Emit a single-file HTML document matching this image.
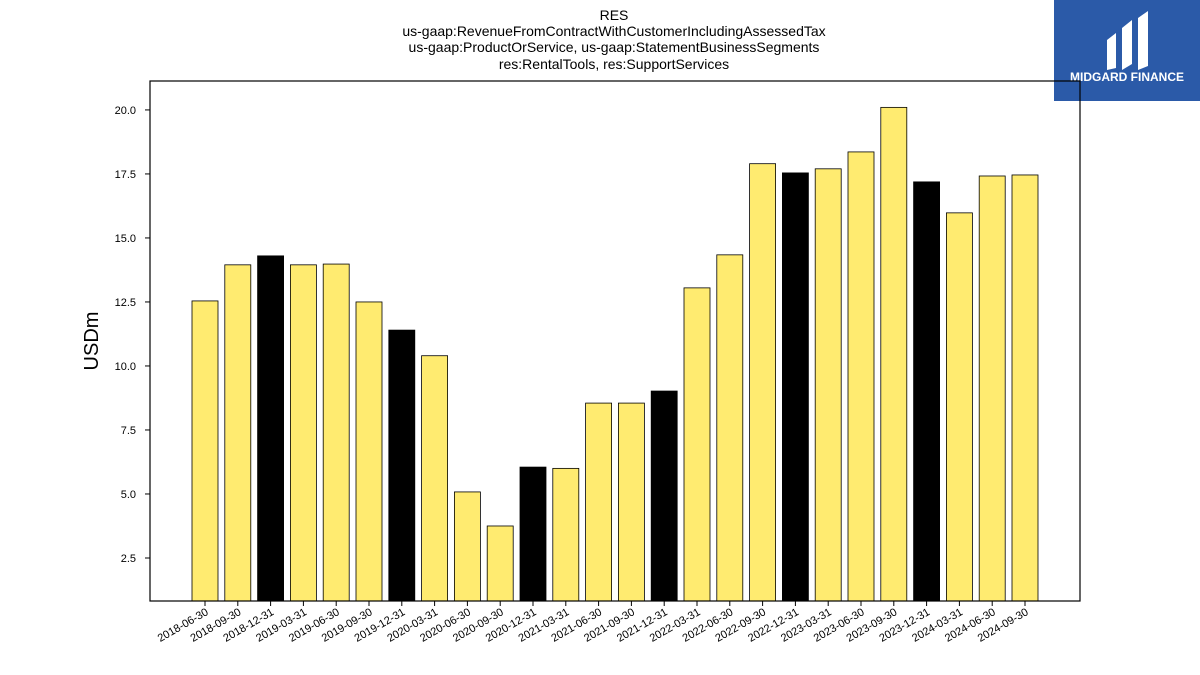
<!DOCTYPE html>
<html><head><meta charset="utf-8"><style>
body{margin:0;background:#fff;font-family:"Liberation Sans","DejaVu Sans",sans-serif;}
#wrap{position:relative;width:1200px;height:675px;overflow:hidden;}
</style></head><body>
<div id="wrap">
<svg id="chart" width="1200" height="675" xmlns="http://www.w3.org/2000/svg">
<g font-size="14" text-anchor="middle" fill="#000">
<text x="614" y="20">RES</text>
<text x="614" y="36">us-gaap:RevenueFromContractWithCustomerIncludingAssessedTax</text>
<text x="614" y="52">us-gaap:ProductOrService, us-gaap:StatementBusinessSegments</text>
<text x="614" y="69">res:RentalTools, res:SupportServices</text>
</g>
<g>
<rect x="1054" y="0" width="146" height="101" fill="#2b5aa8"/>
<path d="M1107 40 L1116 33 L1116 68 L1107 70 Z M1122 28 L1132 20 L1132 64 L1122 70 Z M1138 18 L1148 11 L1148 66 L1138 70 Z" fill="#fff"/>
<text x="1127" y="81" font-size="12" font-weight="bold" fill="#fff" text-anchor="middle">MIDGARD FINANCE</text>
</g>
<text x="98" y="341" font-size="20" text-anchor="middle" transform="rotate(-90 98 341)">USDm</text>
<g id="bars"></g>
<g id="yticks"></g>
<g id="xticks"></g>
<rect x="150" y="81" width="930" height="520" fill="none" stroke="#000" stroke-width="1.2"/>
</svg>
</div>
<script>
const categories=["2018-06-30","2018-09-30","2018-12-31","2019-03-31","2019-06-30","2019-09-30","2019-12-31","2020-03-31","2020-06-30","2020-09-30","2020-12-31","2021-03-31","2021-06-30","2021-09-30","2021-12-31","2022-03-31","2022-06-30","2022-09-30","2022-12-31","2023-03-31","2023-06-30","2023-09-30","2023-12-31","2024-03-31","2024-06-30","2024-09-30"];
const values=[12.54,13.95,14.3,13.95,13.98,12.5,11.4,10.4,5.08,3.75,6.05,6.0,8.55,8.55,9.02,13.05,14.34,17.9,17.54,17.7,18.36,20.1,17.19,15.98,17.42,17.46];
const yTicks=[2.5,5.0,7.5,10.0,12.5,15.0,17.5,20.0];
const NS="http://www.w3.org/2000/svg";
const yMin=0.82,yMax=21.13,plotTop=81,plotBottom=601;
function y(v){return plotBottom-(v-yMin)/(yMax-yMin)*(plotBottom-plotTop);}
function x(i){return 205+i*(1025-205)/(categories.length-1);}
const bw=26;
const bars=document.getElementById('bars');
values.forEach((v,i)=>{
 const r=document.createElementNS(NS,'rect');
 r.setAttribute('x',x(i)-bw/2);r.setAttribute('y',y(v));
 r.setAttribute('width',bw);r.setAttribute('height',plotBottom-y(v));
 const d=new Date(categories[i]);
 r.setAttribute('fill',categories[i].slice(5)==="12-31"?"#000":"#ffeb70");
 r.setAttribute('stroke','#000');r.setAttribute('stroke-width','0.8');
 
 
 bars.appendChild(r);
});
const yt=document.getElementById('yticks');
yTicks.forEach(t=>{
 const l=document.createElementNS(NS,'line');
 l.setAttribute('x1',145);l.setAttribute('x2',150);l.setAttribute('y1',y(t));l.setAttribute('y2',y(t));l.setAttribute('stroke','#000');
 
 
 yt.appendChild(l);
 const tx=document.createElementNS(NS,'text');
 tx.setAttribute('x',136);tx.setAttribute('y',y(t)+4);tx.setAttribute('font-size','11');tx.setAttribute('text-anchor','end');
 tx.textContent=t.toFixed(1);
 
 
 yt.appendChild(tx);
});
const xt=document.getElementById('xticks');
categories.forEach((c,i)=>{
 const l=document.createElementNS(NS,'line');
 l.setAttribute('x1',x(i));l.setAttribute('x2',x(i));l.setAttribute('y1',601);l.setAttribute('y2',606);l.setAttribute('stroke','#000');
 
 
 xt.appendChild(l);
 const tx=document.createElementNS(NS,'text');
 const px=x(i)+4,py=614;
 tx.setAttribute('x',px);tx.setAttribute('y',py);tx.setAttribute('font-size','11');tx.setAttribute('text-anchor','end');
 tx.setAttribute('transform','rotate(-30 '+px+' '+py+')');
 tx.textContent=c;
 
 
 xt.appendChild(tx);
});
</script>
</body></html>
